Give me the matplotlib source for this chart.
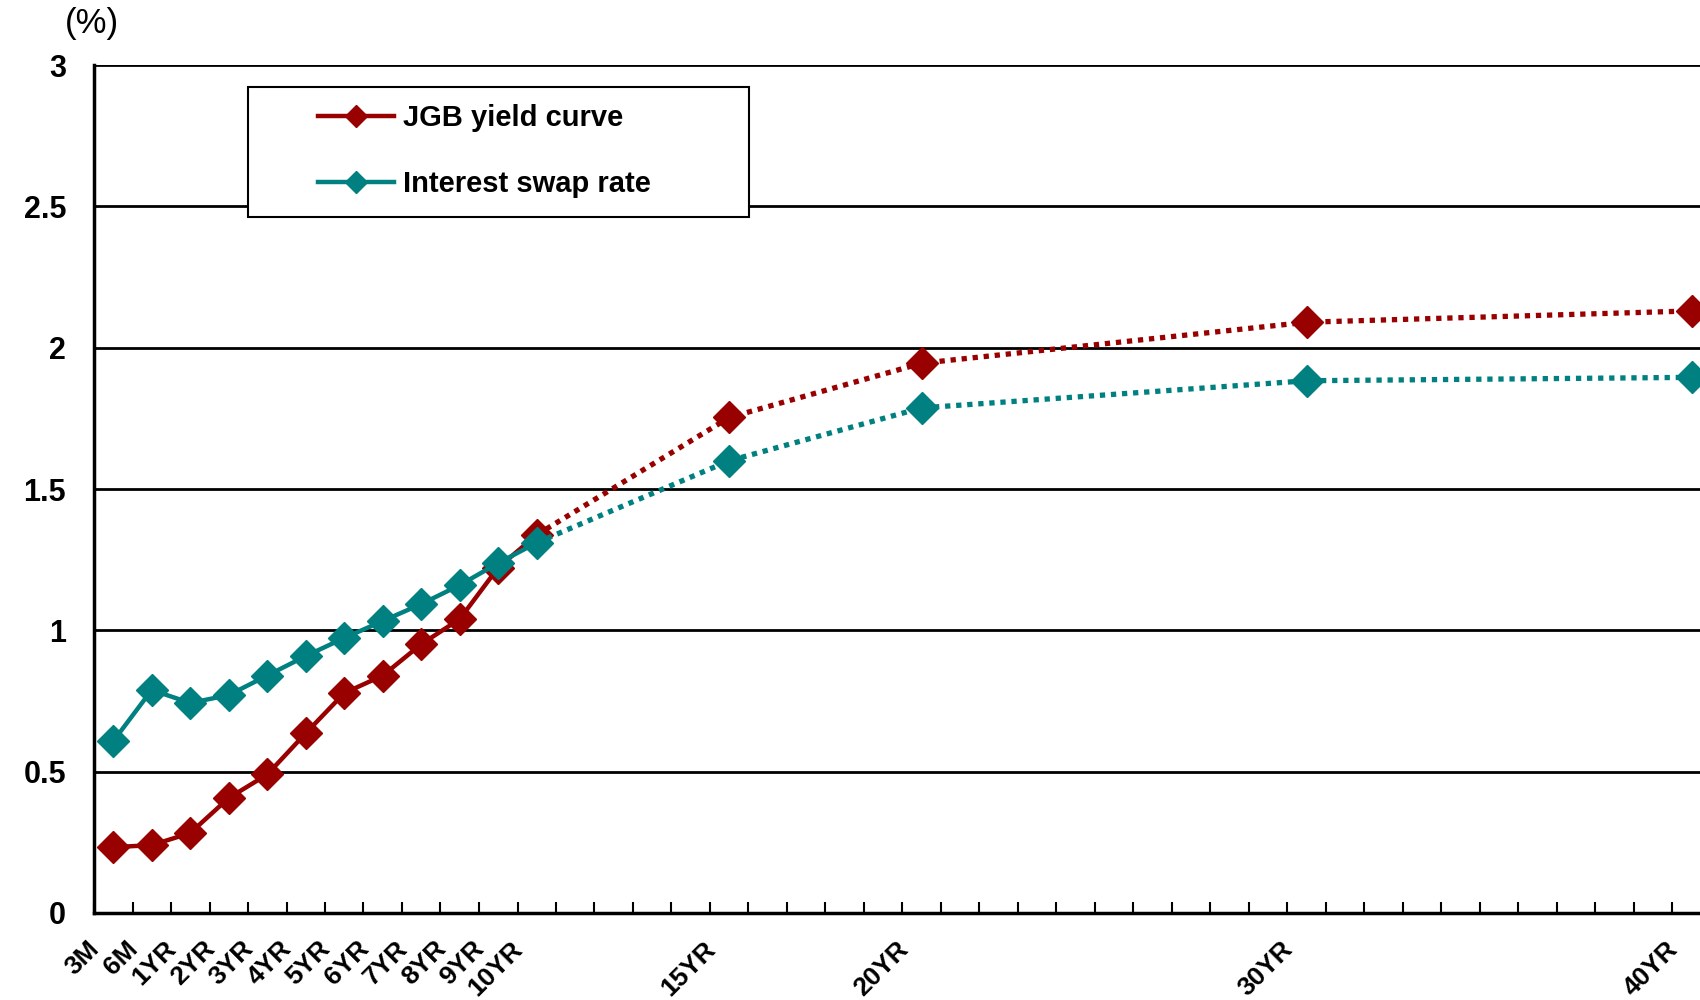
import matplotlib.pyplot as plt
from matplotlib.patches import Rectangle
from matplotlib.ticker import FixedLocator, FuncFormatter
from matplotlib.transforms import ScaledTranslation

# Category slots along the x axis: 3M, 6M, then every year out to 40YR
slots = ['3M', '6M'] + ['%dYR' % n for n in range(1, 41)]

# Tenors that carry data and a label
tenors = ['3M', '6M', '1YR', '2YR', '3YR', '4YR', '5YR', '6YR', '7YR',
          '8YR', '9YR', '10YR', '15YR', '20YR', '30YR', '40YR']
jgb = [0.233, 0.240, 0.283, 0.407, 0.490, 0.636, 0.778, 0.840, 0.951,
       1.040, 1.222, 1.338, 1.753, 1.945, 2.090, 2.130]
swap = [0.608, 0.789, 0.743, 0.771, 0.840, 0.909, 0.973, 1.033, 1.093,
        1.160, 1.238, 1.310, 1.600, 1.787, 1.883, 1.895]
last_solid = '10YR'

red = '#990000'
teal = '#008080'

plt.rcParams['font.family'] = ['Liberation Sans', 'DejaVu Sans']

fig = plt.figure(figsize=(17, 10), dpi=100)
ax = fig.add_axes([94 / 1700, 0.087, 1617 / 1700, 0.848])

pos = [slots.index(t) for t in tenors]
cut = tenors.index(last_solid) + 1

for vals, col, name in [(jgb, red, 'JGB yield curve'), (swap, teal, 'Interest swap rate')]:
    ax.plot(pos[:cut], vals[:cut], color=col, lw=3.2, marker='D', ms=16,
            mec=col, label=name, zorder=3)
    ax.plot(pos[cut - 1:], vals[cut - 1:], color=col, lw=3.8, ls=(0, (1, 1.1)),
            marker='D', ms=16, mec=col, markevery=list(range(1, len(pos) - cut + 1)),
            zorder=3)

ax.set_xlim(-0.5, len(slots) - 0.5)
ax.set_ylim(0, 3)

# y axis: black gridlines, bold labels
ax.set_yticks([0, 0.5, 1, 1.5, 2, 2.5, 3])
ax.yaxis.set_major_formatter(FuncFormatter(lambda v, p: '%g' % v))
ax.grid(axis='y', color='black', lw=2, zorder=1)
ax.tick_params(axis='y', length=0, pad=20)
for lab in ax.get_yticklabels():
    lab.set_fontweight('bold')
    lab.set_fontsize(22)

# x axis: inward minor ticks between categories, labels only at data tenors
ax.xaxis.set_minor_locator(FixedLocator([k + 0.5 for k in range(-1, len(slots))]))
ax.tick_params(axis='x', which='minor', direction='in', length=8, width=1.5)
ax.set_xticks(pos)
ax.set_xticklabels(tenors, rotation=45, ha='right', va='top',
                   rotation_mode='anchor', fontsize=19, fontweight='bold')
ax.tick_params(axis='x', which='major', length=0, pad=17)
shift = ScaledTranslation(-0.26, 0, fig.dpi_scale_trans)
for lab in ax.get_xticklabels():
    lab.set_transform(lab.get_transform() + shift)

for s in ['top', 'right']:
    ax.spines[s].set_visible(False)
for s in ['left', 'bottom']:
    ax.spines[s].set_linewidth(2.5)

fig.text(92 / 1700, 1 - 24 / 1000, '(%)', fontsize=25, ha='center', va='center')

# legend inside a wide boxed frame
frame = Rectangle((248 / 1700, 1 - 217 / 1000), 501 / 1700, 130 / 1000,
                  transform=fig.transFigure, facecolor='white',
                  edgecolor='black', lw=1.5, zorder=4, clip_on=False)
ax.add_patch(frame)
leg = ax.legend(loc='upper left', bbox_to_anchor=(318 / 1700, 1 - 104 / 1000),
                bbox_transform=fig.transFigure, frameon=False,
                prop={'weight': 'bold', 'size': 21}, handlelength=2.6,
                handletextpad=0.3, labelspacing=1.3, borderpad=0, borderaxespad=0)
for h in leg.legend_handles:
    h.set_markersize(11)
leg.set_zorder(5)

fig.savefig('out.png', dpi=100)
